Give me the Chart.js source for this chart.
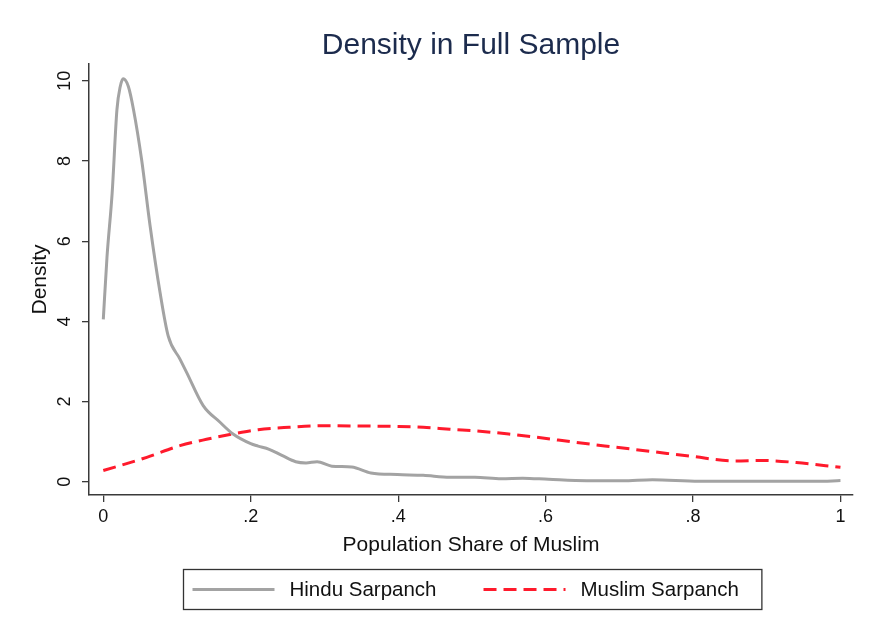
<!DOCTYPE html>
<html>
<head>
<meta charset="utf-8">
<script src="https://cdn.jsdelivr.net/npm/chart.js@4/dist/chart.umd.min.js"></script>
<style>
    html, body { margin: 0; padding: 0; background: #fff; }
    #wrap { width: 876px; height: 639px; }
</style>
</head>
<body>
<div id="wrap"><canvas id="chart"></canvas></div>
<script>
// kernel density estimates, read at irregular x positions
const hinduX = [0, 0.005, 0.012, 0.0185, 0.023, 0.027, 0.034, 0.041, 0.052, 0.0635, 0.077, 0.088, 0.104, 0.113, 0.1355, 0.158, 0.176, 0.2, 0.21, 0.225, 0.243, 0.261, 0.275, 0.29, 0.31, 0.337, 0.363, 0.399, 0.434, 0.47, 0.504, 0.54, 0.569, 0.604, 0.656, 0.704, 0.745, 0.808, 0.867, 0.926, 0.967, 1.0]
const hinduY = [4.05, 5.6, 7.2, 9.28, 9.86, 10.05, 9.86, 9.28, 8.03, 6.38, 4.72, 3.64, 3.06, 2.73, 1.90, 1.49, 1.19, 0.95, 0.89, 0.81, 0.65, 0.50, 0.47, 0.50, 0.39, 0.37, 0.22, 0.18, 0.16, 0.11, 0.11, 0.075, 0.09, 0.06, 0.025, 0.025, 0.05, 0.01, 0.01, 0.01, 0.01, 0.03]

const muslimX = [0, 0.059, 0.104, 0.14, 0.175, 0.21, 0.252, 0.299, 0.35, 0.399, 0.434, 0.47, 0.511, 0.55, 0.588, 0.642, 0.696, 0.746, 0.8, 0.855, 0.895, 0.94, 1.0]
const muslimY = [0.28, 0.61, 0.90, 1.06, 1.19, 1.30, 1.36, 1.40, 1.39, 1.38, 1.36, 1.31, 1.26, 1.19, 1.11, 0.98, 0.86, 0.75, 0.63, 0.52, 0.53, 0.48, 0.36]

const xTicks = [0, 0.2, 0.4, 0.6, 0.8, 1]
const xTickLabels = ["0", ".2", ".4", ".6", ".8", "1"]
const yTicks = [0, 2, 4, 6, 8, 10]

const seriesNames = ["Hindu Sarpanch", "Muslim Sarpanch"]

const FONT = "'Liberation Sans', Arial, Helvetica, sans-serif"
const AXIS = "#3a3a3a"

function pairs(xs, ys) {
    return xs.map((x, i) => ({ x: x, y: ys[i] }))
}

// Stata style legend: one framed row under the axis title
const boxLegend = {
    id: "boxLegend",
    afterDraw(chart) {
        const ctx = chart.ctx
        const area = chart.chartArea
        const sets = chart.data.datasets
        ctx.save()
        ctx.font = "20.5px " + FONT
        const lineLen = 82, gapText = 15, gapItem = 47, padL = 9, padR = 23
        const widths = sets.map(d => ctx.measureText(d.label).width)
        let total = padL + padR + gapItem * (sets.length - 1)
        widths.forEach(w => { total += lineLen + gapText + w })
        const cx = (area.left + area.right) / 2 + 1
        const left = Math.round(cx - total / 2) + 0.5
        const top = 569.5, h = 40
        ctx.strokeStyle = "#333"
        ctx.lineWidth = 1.3
        ctx.strokeRect(left, top, total, h)
        let x = left + padL
        const y = top + h / 2
        sets.forEach((d, i) => {
            ctx.beginPath()
            ctx.strokeStyle = d.borderColor
            ctx.lineWidth = d.borderWidth
            ctx.setLineDash(d.borderDash || [])
            ctx.moveTo(x, y)
            ctx.lineTo(x + lineLen, y)
            ctx.stroke()
            ctx.setLineDash([])
            ctx.fillStyle = "#111"
            ctx.textBaseline = "middle"
            ctx.fillText(d.label, x + lineLen + gapText, y + 1)
            x += lineLen + gapText + widths[i] + gapItem
        })
        ctx.restore()
    }
}

window.onload = () => {
    new Chart(document.getElementById("chart"), {
        type: "line",
        data: {
            datasets: [{
                label: seriesNames[0],
                data: pairs(hinduX, hinduY),
                borderColor: "#a3a3a3",
                borderWidth: 3,
                pointRadius: 0,
                cubicInterpolationMode: "monotone",
                fill: false
            }, {
                label: seriesNames[1],
                data: pairs(muslimX, muslimY),
                borderColor: "#ff1a2c",
                borderWidth: 3,
                borderDash: [13, 7],
                pointRadius: 0,
                cubicInterpolationMode: "monotone",
                fill: false
            }]
        },
        options: {
            responsive: true,
            maintainAspectRatio: false,
            animation: false,
            layout: { padding: { left: 0, right: 23, top: 0, bottom: 81 } },
            plugins: {
                legend: { display: false },
                tooltip: { enabled: false },
                title: {
                    display: true,
                    text: "Density in Full Sample",
                    fullSize: false,
                    color: "#1c2b4d",
                    font: { family: FONT, size: 30, weight: "normal" },
                    padding: { top: 28, bottom: 0 }
                }
            },
            scales: {
                x: {
                    type: "linear",
                    min: -0.0194,
                    max: 1.017,
                    afterBuildTicks: s => { s.ticks = xTicks.map(v => ({ value: v })) },
                    afterFit: s => { s.height = 63 },
                    ticks: {
                        color: "#111",
                        font: { family: FONT, size: 18 },
                        padding: 4,
                        maxRotation: 0,
                        callback: (v) => xTickLabels[xTicks.indexOf(v)]
                    },
                    grid: { drawOnChartArea: false, drawTicks: true, tickLength: 7, color: AXIS, lineWidth: 1.3 },
                    border: { display: true, color: AXIS, width: 1.5 },
                    title: {
                        display: true,
                        text: "Population Share of Muslim",
                        color: "#111",
                        font: { family: FONT, size: 21 },
                        padding: { top: 0, bottom: 0 }
                    }
                },
                y: {
                    type: "linear",
                    min: -0.33,
                    max: 10.42,
                    afterBuildTicks: s => { s.ticks = yTicks.map(v => ({ value: v })) },
                    afterFit: s => { s.width = 89 },
                    ticks: {
                        color: "#111",
                        font: { family: FONT, size: 18 },
                        padding: 7,
                        crossAlign: "center",
                        minRotation: 90,
                        maxRotation: 90
                    },
                    grid: { drawOnChartArea: false, drawTicks: true, tickLength: 7, color: AXIS, lineWidth: 1.3 },
                    border: { display: true, color: AXIS, width: 1.5 },
                    title: {
                        display: true,
                        text: "Density",
                        color: "#111",
                        font: { family: FONT, size: 21 },
                        padding: { top: 28, bottom: 0 }
                    }
                }
            }
        },
        plugins: [boxLegend]
    })
}
</script>
</body>
</html>
